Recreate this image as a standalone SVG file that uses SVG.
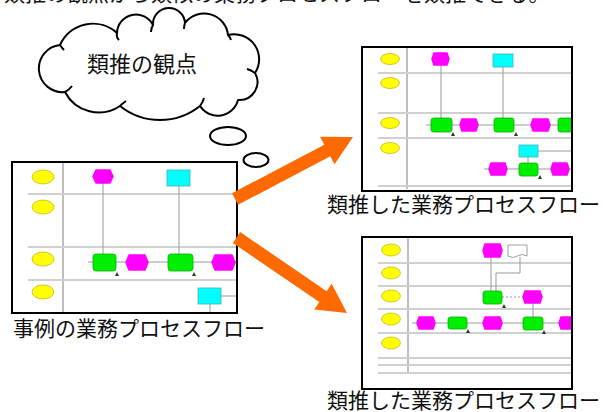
<svg xmlns="http://www.w3.org/2000/svg" width="603" height="412" viewBox="0 0 603 412">
<style>
.t{font-family:"Noto Sans CJK JP","Noto Sans CJK SC",sans-serif;fill:#111}
.frame{fill:#fff;stroke:#000;stroke-width:2}
.lane{stroke:#d0d0d0;stroke-width:2;fill:none}
.vl{stroke:#a8a8a8;stroke-width:1.5;fill:none}
.cn{stroke:#999;stroke-width:1;fill:none}
.ell{fill:#ffff00;stroke:#b0a000;stroke-width:0.6}
.ev{fill:#ff00ff;stroke:#ff00ff;stroke-width:1.5;stroke-linejoin:round}
.fn{fill:#00ee00;stroke:#00b000;stroke-width:0.8}
.org{fill:#00ffff;stroke:#40b0c0;stroke-width:0.8}
.tri{fill:#204020}
.cloud{fill:#fff;stroke:#000;stroke-width:2;stroke-linejoin:round}
.arrow{fill:#ff6a00}
</style>
<defs>
<clipPath id="c1"><rect x="13" y="163" width="223" height="149"/></clipPath>
<clipPath id="c2"><rect x="363" y="48" width="208" height="142"/></clipPath>
<clipPath id="c3"><rect x="363" y="238" width="208" height="150"/></clipPath>
</defs>

<g id="top-text">
<text class="t" x="4" y="0.5" font-size="21">類推の観点から類似の業務プロセスフローを類推できる。</text>
</g>

<g id="cloud">
<path class="cloud" d="M60,45 A36,36 0 0 1 117,33 A19,19 0 0 1 153,25 A16,16 0 0 1 185,23 A24,24 0 0 1 228,35 A25,25 0 0 1 255,73 A18,18 0 0 1 238,100 A21,21 0 0 1 200,106 A64,64 0 0 1 120,106 A38,38 0 0 1 65,92 A22.5,22.5 0 0 1 60,45 Z"/>
<path fill="none" stroke="#000" stroke-width="2" d="M117,33 Q116,37 119,40 M153,25 Q151,28 151,32 M185,23 Q184,26 184,29 M228,35 Q230,37 231,40 M255,73 Q251,70 247,69 M200,106 Q203,102 204,98 M120,106 Q123,103 126,101 M65,92 Q69,90 72,86 M60,45 Q62,48 64,50"/>
<text class="t" x="142" y="72" font-size="22" text-anchor="middle">類推の観点</text>
</g>

<g id="bubbles">
<ellipse cx="228" cy="136" rx="18" ry="9" fill="#fff" stroke="#000" stroke-width="2"/>
<ellipse cx="256" cy="160" rx="12.5" ry="7" fill="#fff" stroke="#000" stroke-width="2"/>
</g>

<g id="source-flow">
<rect class="frame" x="12" y="162" width="225" height="151"/>
<g clip-path="url(#c1)">
<line class="vl" x1="63" y1="163" x2="63" y2="312"/>
<line class="lane" x1="28" y1="194" x2="237" y2="194"/>
<line class="lane" x1="28" y1="247" x2="237" y2="247"/>
<line class="lane" x1="28" y1="280" x2="237" y2="280"/>
<ellipse class="ell" cx="43" cy="177" rx="11" ry="7"/>
<ellipse class="ell" cx="43" cy="207" rx="11" ry="7"/>
<ellipse class="ell" cx="43" cy="259" rx="11" ry="7"/>
<ellipse class="ell" cx="43" cy="292" rx="11" ry="7"/>
<line class="cn" x1="103" y1="183" x2="103" y2="254"/>
<line class="cn" x1="179" y1="186" x2="179" y2="254"/>
<line class="cn" x1="88" y1="262" x2="236" y2="262"/>
<line class="cn" x1="221" y1="296" x2="236" y2="296"/>
<line class="cn" x1="210" y1="304" x2="210" y2="312"/>
<path class="ev" d="M96,170 H110 L113,176.5 L110,183 H96 L93,176.5 Z"/>
<rect class="org" x="167" y="170" width="23" height="16"/>
<rect class="fn" x="93" y="254" width="23" height="17" rx="3"/>
<path class="ev" d="M129,255 H145 L148,262.5 L145,270 H129 L126,262.5 Z"/>
<rect class="fn" x="168" y="254" width="25" height="17" rx="3"/>
<path class="ev" d="M215,255 H232 L235,262.5 L232,270 H215 L212,262.5 Z"/>
<path class="tri" d="M115,276 L117,272 L119,276 Z"/>
<path class="tri" d="M192,276 L194,272 L196,276 Z"/>
<rect class="org" x="198" y="288" width="23" height="16"/>
</g>
</g>

<g id="analog-flow-1">
<rect class="frame" x="362" y="47" width="210" height="144"/>
<g clip-path="url(#c2)">
<line class="vl" x1="407" y1="48" x2="407" y2="189"/>
<line class="lane" x1="378" y1="73" x2="572" y2="73"/>
<line class="lane" x1="378" y1="113" x2="572" y2="113"/>
<line class="lane" x1="378" y1="138" x2="572" y2="138"/>
<line class="lane" x1="378" y1="186" x2="572" y2="186"/>
<ellipse class="ell" cx="390" cy="59" rx="9.5" ry="5.5"/>
<ellipse class="ell" cx="390" cy="83" rx="9.5" ry="5.5"/>
<ellipse class="ell" cx="390" cy="123" rx="9.5" ry="5.5"/>
<ellipse class="ell" cx="390" cy="148" rx="9.5" ry="5.5"/>
<line class="cn" x1="441" y1="65" x2="441" y2="118"/>
<line class="cn" x1="503" y1="67" x2="503" y2="118"/>
<line class="cn" x1="426" y1="125" x2="572" y2="125"/>
<line class="cn" x1="538" y1="151" x2="572" y2="151"/>
<line class="cn" x1="528" y1="157" x2="528" y2="163"/>
<line class="cn" x1="484" y1="169" x2="572" y2="169"/>
<path class="ev" d="M434,53 H447 L449,59 L447,65 H434 L432,59 Z"/>
<rect class="org" x="493" y="54" width="20" height="13"/>
<rect class="fn" x="431" y="118" width="21" height="14" rx="2.5"/>
<path class="ev" d="M462,119 H476 L478,125 L476,131 H462 L460,125 Z"/>
<rect class="fn" x="494" y="118" width="20" height="14" rx="2.5"/>
<path class="ev" d="M533,119 H548 L550,125 L548,131 H533 L531,125 Z"/>
<rect class="fn" x="558" y="118" width="16" height="14" rx="2.5"/>
<path class="tri" d="M451,136 L453,132 L455,136 Z"/>
<path class="tri" d="M514,136 L516,132 L518,136 Z"/>
<rect class="org" x="519" y="145" width="19" height="12"/>
<path class="ev" d="M491,163 H505 L507,169 L505,175 H491 L489,169 Z"/>
<rect class="fn" x="519" y="163" width="19" height="13" rx="2.5"/>
<path class="ev" d="M553,163 H567 L569,169 L567,175 H553 L551,169 Z"/>
<path class="tri" d="M538,179 L540,175 L542,179 Z"/>
</g>
</g>

<g id="analog-flow-2">
<rect class="frame" x="362" y="237" width="210" height="152"/>
<g clip-path="url(#c3)">
<line class="vl" x1="408" y1="238" x2="408" y2="373"/>
<line class="lane" x1="378" y1="263" x2="572" y2="263"/>
<line class="lane" x1="378" y1="286" x2="572" y2="286"/>
<line class="lane" x1="378" y1="309" x2="572" y2="309"/>
<line class="lane" x1="378" y1="333" x2="572" y2="333"/>
<line class="lane" x1="378" y1="358" x2="572" y2="358"/>
<line class="lane" x1="378" y1="365" x2="572" y2="365"/>
<line class="lane" x1="378" y1="373" x2="572" y2="373"/>
<ellipse class="ell" cx="391" cy="250" rx="9.5" ry="6"/>
<ellipse class="ell" cx="391" cy="273" rx="9.5" ry="6"/>
<ellipse class="ell" cx="391" cy="296" rx="9.5" ry="6"/>
<ellipse class="ell" cx="391" cy="319" rx="9.5" ry="6"/>
<ellipse class="ell" cx="391" cy="343" rx="9.5" ry="6"/>
<line class="cn" x1="491" y1="257" x2="491" y2="291"/>
<polyline class="cn" points="520,257 520,273 496,273 496,291"/>
<line class="cn" x1="502" y1="297" x2="523" y2="297" stroke-dasharray="2,2"/>
<line class="cn" x1="533" y1="303" x2="533" y2="317"/>
<line class="cn" x1="412" y1="323" x2="572" y2="323"/>
<path class="ev" d="M485,244 H500 L502,250.5 L500,257 H485 L483,250.5 Z"/>
<path d="M508,245 H527 V256 Q522,253 517.5,256 Q513,259 508,256 Z" fill="#fff" stroke="#888" stroke-width="0.8"/>
<rect class="fn" x="483" y="291" width="19" height="13" rx="2.5"/>
<path class="ev" d="M525,291 H540 L542,297 L540,303 H525 L523,297 Z"/>
<path class="tri" d="M502,308 L504,304 L506,308 Z"/>
<path class="ev" d="M419,317 H433 L435,323 L433,329 H419 L417,323 Z"/>
<rect class="fn" x="448" y="317" width="19" height="12" rx="2.5"/>
<path class="ev" d="M485,317 H500 L502,323 L500,329 H485 L483,323 Z"/>
<rect class="fn" x="523" y="317" width="20" height="13" rx="2.5"/>
<path class="ev" d="M561,317 H575 L577,323 L575,329 H561 L559,323 Z"/>
<path class="tri" d="M466,333 L468,329 L470,333 Z"/>
<path class="tri" d="M542,334 L544,330 L546,334 Z"/>
</g>
</g>

<g id="connectors">
<polygon class="arrow" points="232,193.2 324.3,144.7 320.1,136.8 353,137 334.5,164.2 330.3,156.3 238,204.8"/>
<polygon class="arrow" points="240.2,232.1 326.7,291.2 331.7,283.8 347,313 314.3,309.4 319.3,302 232.8,242.9"/>
</g>

<g id="labels">
<text class="t" x="13" y="336" font-size="21">事例の業務プロセスフロー</text>
<text class="t" x="327" y="212" font-size="21">類推した業務プロセスフロー</text>
<text class="t" x="327" y="408" font-size="21">類推した業務プロセスフロー</text>
</g>
</svg>
